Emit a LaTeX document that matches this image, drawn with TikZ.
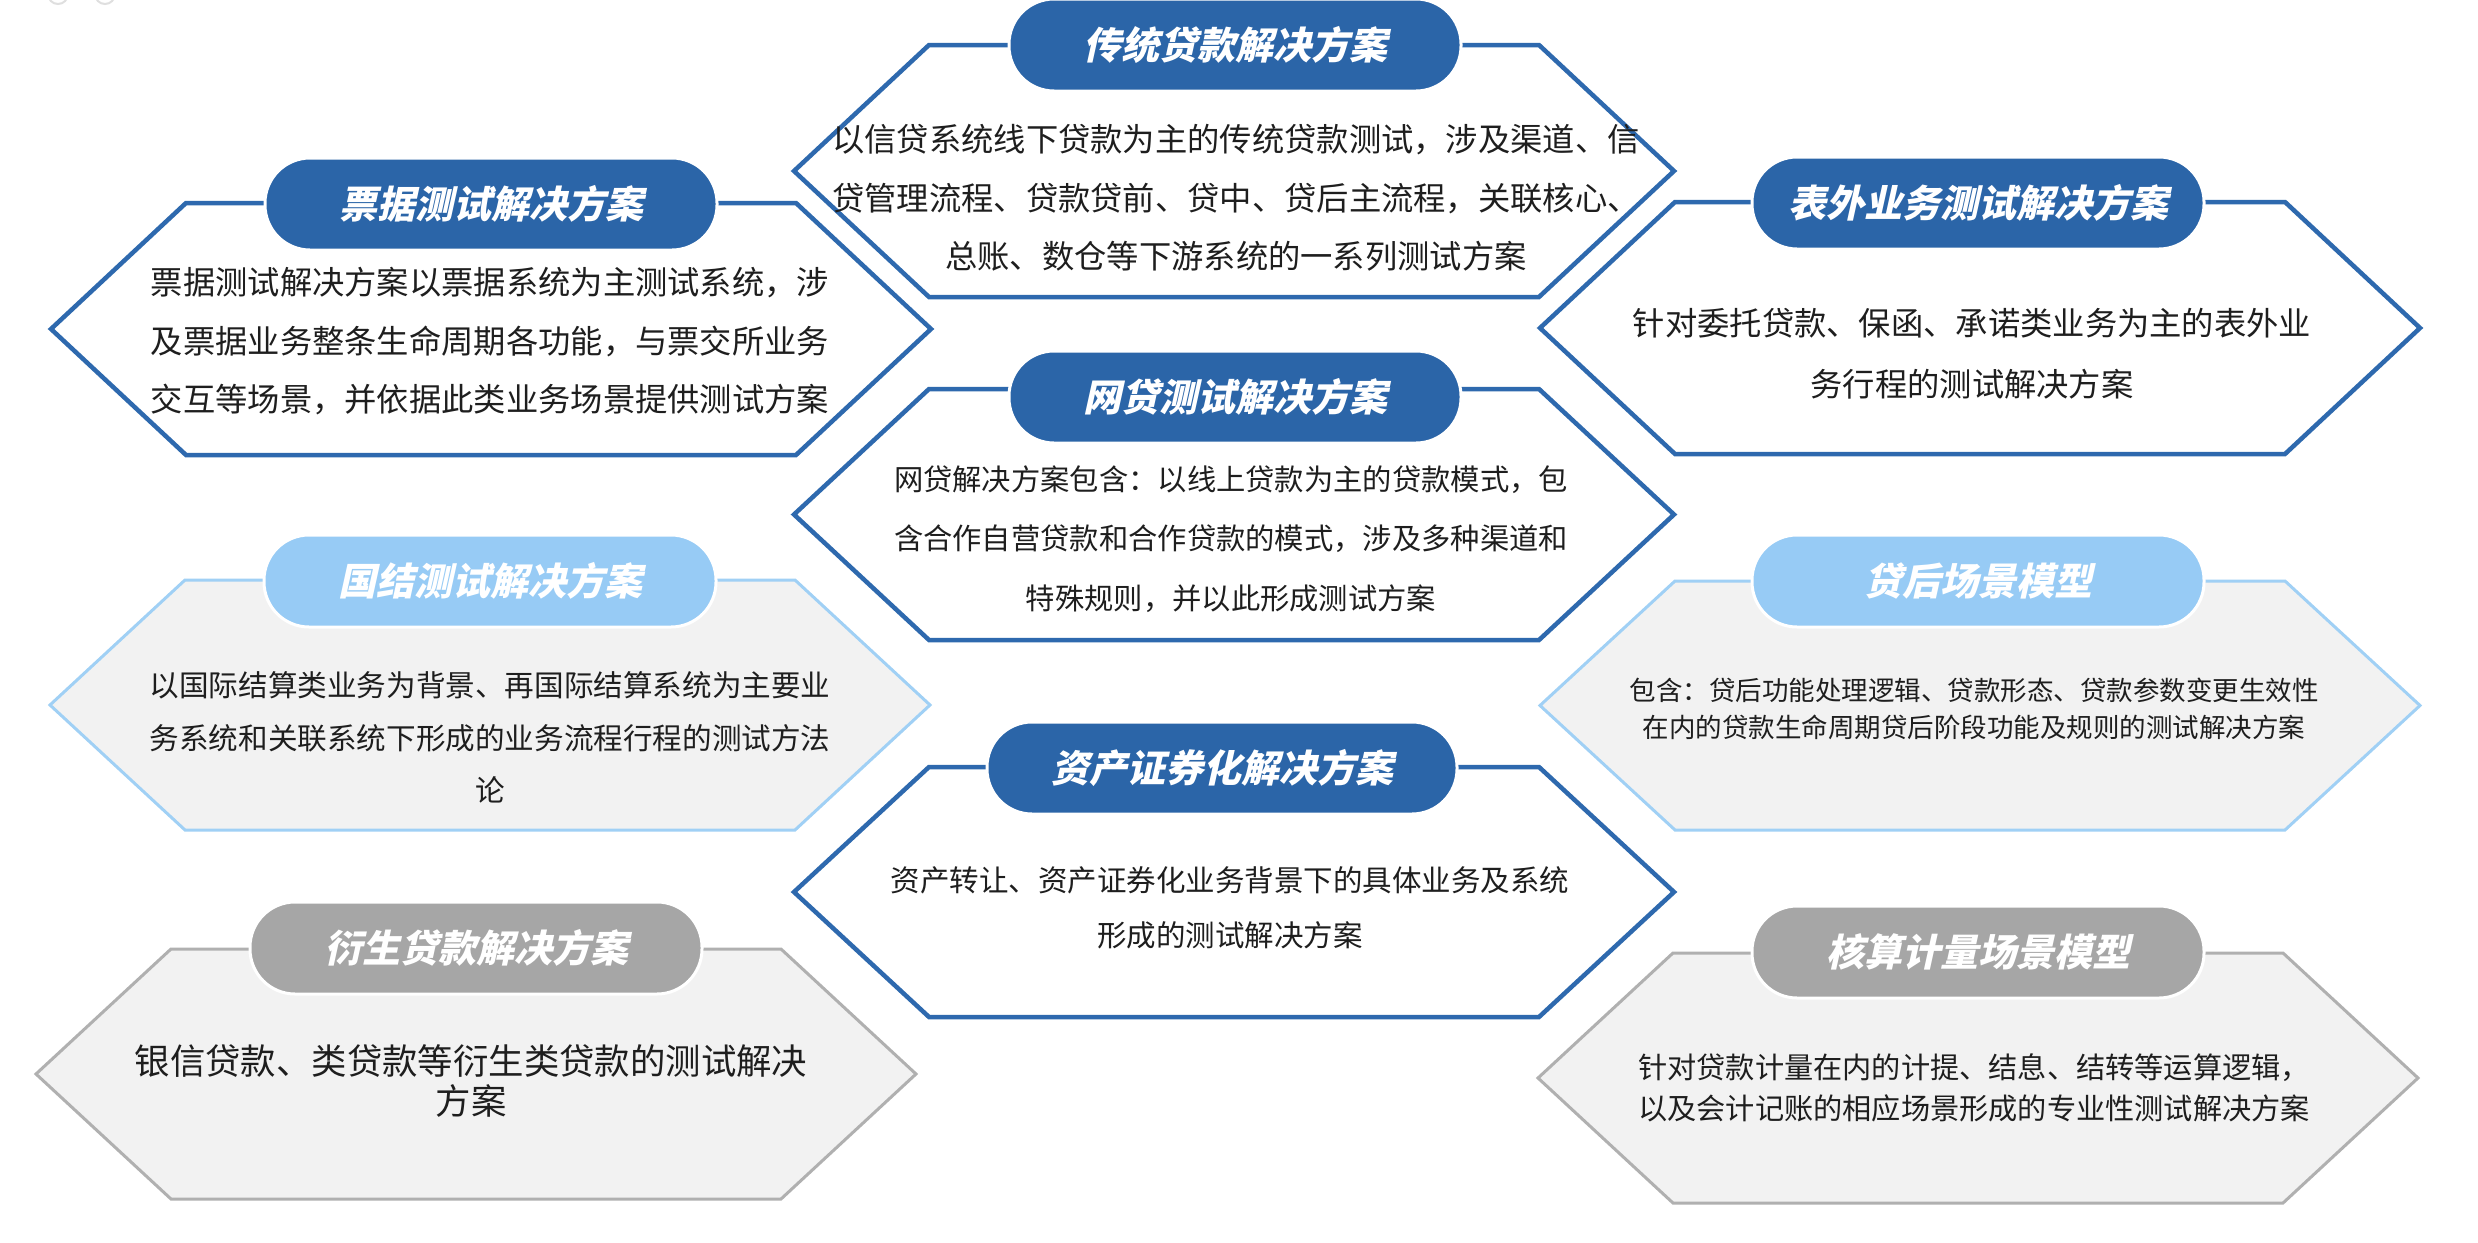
\documentclass[tikz,border=0pt]{standalone}
\usepackage{fontspec}
\setmainfont{Noto Sans CJK SC}
\newfontfamily\cjkbody{Noto Sans CJK SC}
\newfontfamily\cjktitle[FakeSlant=0.22]{Noto Sans CJK SC}
\definecolor{pilldb}{HTML}{2B65A8}
\definecolor{hexdb}{HTML}{2E69AE}
\definecolor{pilllb}{HTML}{97CBF5}
\definecolor{hexlb}{HTML}{A0D0F5}
\definecolor{pillgr}{HTML}{A6A6A6}
\definecolor{hexgr}{HTML}{B0B0B0}
\definecolor{hexfill}{HTML}{F2F2F2}
\definecolor{bodytext}{HTML}{1E1E1E}
\tikzset{
  hexdark/.style={draw=hexdb, line width=4.5pt, fill=white, line join=miter},
  hexlight/.style={draw=hexlb, line width=3pt, fill=hexfill, line join=miter},
  hexgray/.style={draw=hexgr, line width=3pt, fill=hexfill, line join=miter},
  pill/.style={rectangle, rounded corners=45pt, minimum width=452pt, minimum height=92pt,
    inner sep=0pt, draw=white, line width=3pt, text=white,
    font=\cjktitle\bfseries\fontsize{38}{40}\selectfont},
  pilldark/.style={pill, fill=pilldb},
  pilllight/.style={pill, fill=pilllb},
  pillgray/.style={pill, fill=pillgr},
  body/.style={align=center, inner sep=0pt, text=bodytext}
}
\newcommand\hexdraw[4]{%
  \path[#1] ({#2-440},{(#3+#4)/2}) -- ({#2-305},#3) -- ({#2+305},#3) -- ({#2+440},{(#3+#4)/2})
    -- ({#2+305},#4) -- ({#2-305},#4) -- cycle;}
\begin{document}
\begin{tikzpicture}[x=1pt,y=-1pt]
\useasboundingbox[fill=white] (0,0) rectangle (2478,1242);
% faint UI marks at top-left
\draw[gray!25, line width=2pt] (58,-6) circle (10);
\draw[gray!25, line width=2pt] (105,-6) circle (10);

% hexagons
\hexdraw{hexdark}{1234}{45}{297}
\hexdraw{hexdark}{491}{203}{455}
\hexdraw{hexdark}{1980}{202}{454}
\hexdraw{hexdark}{1234}{389}{640}
\hexdraw{hexlight}{490}{580}{830}
\hexdraw{hexlight}{1980}{581}{830}
\hexdraw{hexdark}{1234}{767}{1017}
\hexdraw{hexgray}{476}{949}{1199}
\hexdraw{hexgray}{1978}{953}{1203}

% title pills
\node[pilldark] (t1) at (1235,45) {传统贷款解决方案};
\node[pilldark] (t2) at (491,204) {票据测试解决方案};
\node[pilldark] (t3) at (1978,203) {表外业务测试解决方案};
\node[pilldark] (t4) at (1235,397) {网贷测试解决方案};
\node[pilllight] (t5) at (490,581) {国结测试解决方案};
\node[pilllight] (t6) at (1978,581) {贷后场景模型};
\node[pilldark, minimum width=470pt] (t7) at (1222,768) {资产证券化解决方案};
\node[pillgray] (t8) at (476,948) {衍生贷款解决方案};
\node[pillgray] (t9) at (1978,952) {核算计量场景模型};

% body texts
\node[body, font=\cjkbody\fontsize{32.3}{58.5}\selectfont] (b1) at (1236,198)
  {以信贷系统线下贷款为主的传统贷款测试，涉及渠道、信\\贷管理流程、贷款贷前、贷中、贷后主流程，关联核心、\\总账、数仓等下游系统的一系列测试方案};
\node[body, font=\cjkbody\fontsize{32.3}{58.5}\selectfont] (b2) at (490,341.5)
  {票据测试解决方案以票据系统为主测试系统，涉\\及票据业务整条生命周期各功能，与票交所业务\\交互等场景，并依据此类业务场景提供测试方案};
\node[body, font=\cjkbody\fontsize{32.3}{61}\selectfont] (b3) at (1972,353.5)
  {针对委托贷款、保函、承诺类业务为主的表外业\\务行程的测试解决方案};
\node[body, font=\cjkbody\fontsize{29.3}{59.5}\selectfont] (b4) at (1231,539)
  {网贷解决方案包含：以线上贷款为主的贷款模式，包\\含合作自营贷款和合作贷款的模式，涉及多种渠道和\\特殊规则，并以此形成测试方案};
\node[body, font=\cjkbody\fontsize{29.6}{52.5}\selectfont] (b5) at (490,737.5)
  {以国际结算类业务为背景、再国际结算系统为主要业\\务系统和关联系统下形成的业务流程行程的测试方法\\论};
\node[body, font=\cjkbody\fontsize{26.5}{37}\selectfont] (b6) at (1974,708.5)
  {包含：贷后功能处理逻辑、贷款形态、贷款参数变更生效性\\在内的贷款生命周期贷后阶段功能及规则的测试解决方案};
\node[body, font=\cjkbody\fontsize{29.5}{55}\selectfont] (b7) at (1230,907.5)
  {资产转让、资产证券化业务背景下的具体业务及系统\\形成的测试解决方案};
\node[body, font=\cjkbody\fontsize{35.4}{40}\selectfont] (b8) at (471,1081)
  {银信贷款、类贷款等衍生类贷款的测试解决\\方案};
\node[body, font=\cjkbody\fontsize{29.2}{41}\selectfont] (b9) at (1974,1087.5)
  {针对贷款计量在内的计提、结息、结转等运算逻辑，\\以及会计记账的相应场景形成的专业性测试解决方案};
\end{tikzpicture}
\end{document}
